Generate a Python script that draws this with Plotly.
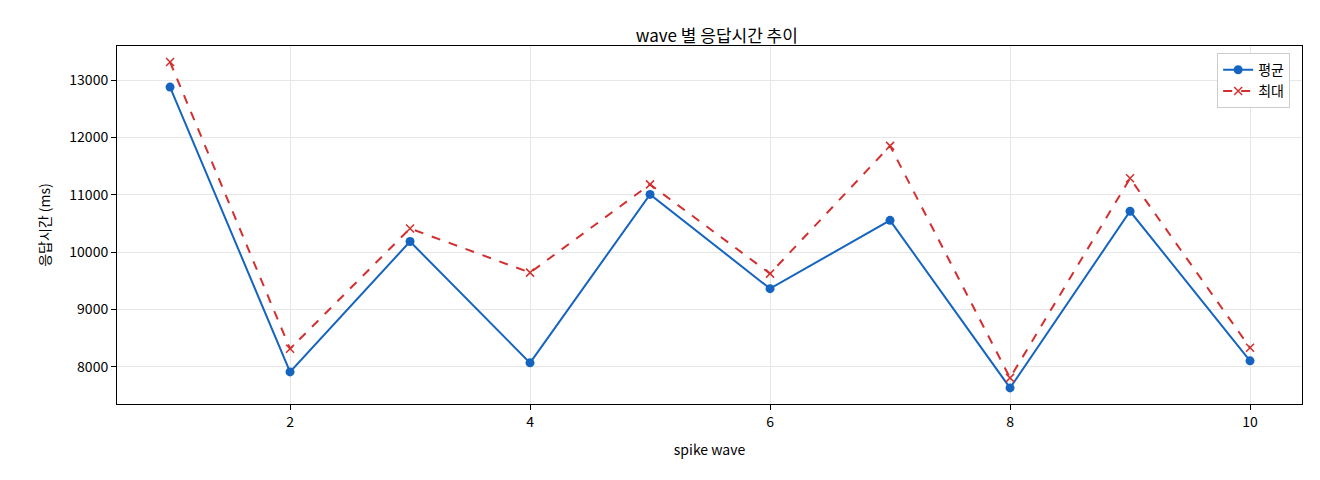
import plotly.graph_objects as go

waves = [1, 2, 3, 4, 5, 6, 7, 8, 9, 10]
avg_ms = [12878, 7913, 10185, 8070, 11007, 9364, 10555, 7633, 10713, 8105]
max_ms = [13315, 8315, 10413, 9643, 11182, 9626, 11853, 7808, 11287, 8332]

font = "Noto Sans CJK KR"

fig = go.Figure()
fig.add_trace(go.Scatter(x=waves, y=avg_ms, mode="lines+markers", name="평균",
                         line=dict(color="#1565c0", width=2),
                         marker=dict(symbol="circle", size=9, color="#1565c0")))
fig.add_trace(go.Scatter(x=waves, y=max_ms, mode="lines+markers", name="최대",
                         line=dict(color="#d32f2f", width=2, dash="dash"),
                         marker=dict(symbol="x-thin", size=8, line=dict(color="#d32f2f", width=1.5))))

axis = dict(showline=True, linecolor="black", mirror=True, ticks="outside",
            tickcolor="black", gridcolor="#e6e6e6", zeroline=False,
            tickfont=dict(size=14, color="black"), automargin=False)

fig.update_layout(
    width=1320, height=480,
    font=dict(family=font, color="black"),
    plot_bgcolor="white", paper_bgcolor="white",
    title=dict(text="wave 별 응답시간 추이", x=0.537, y=0.955, xanchor="center",
               font=dict(size=17)),
    margin=dict(l=109, r=26, t=38, b=84, autoexpand=False),
    xaxis=dict(axis, range=[0.558, 10.433], tickvals=[2, 4, 6, 8, 10],
               title=dict(text="spike wave", font=dict(size=14))),
    yaxis=dict(axis, range=[7353, 13594], tickvals=[8000, 9000, 10000, 11000, 12000, 13000],
               tickformat="d",
               title=dict(text="응답시간 (ms)", font=dict(size=14))),
    legend=dict(x=0.99, y=0.98, xanchor="right", yanchor="top",
                bordercolor="#cccccc", borderwidth=1, font=dict(size=14)),
)

fig.write_html("out.html")
